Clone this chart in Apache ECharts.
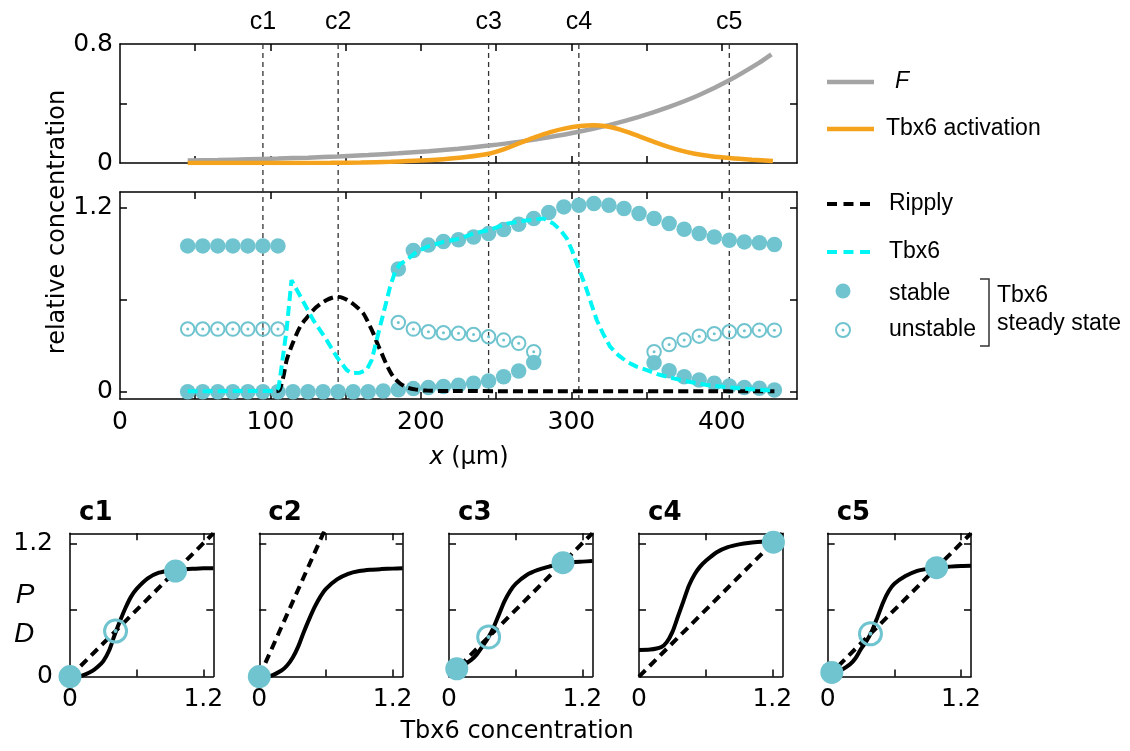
<!DOCTYPE html>
<html><head><meta charset="utf-8">
<script src="https://cdn.jsdelivr.net/npm/echarts@6/dist/echarts.min.js"></script>
<style>html,body{margin:0;padding:0;background:#fff}#c{width:1130px;height:751px}</style>
</head><body><div id="c"></div>
<script>
// ---------------- data ----------------
// top panel
const fX = [45,65,85,105,125,145,165,185,205,225,245,265,285,305,325,345,365,385,405,425,433];
const fY = [0.016,0.02,0.025,0.03,0.036,0.044,0.054,0.065,0.079,0.096,0.117,0.142,0.173,0.21,0.255,0.31,0.377,0.457,0.556,0.675,0.73];
const actX = [45,100,140,160,180,200,215,230,245,255,266,276,286,296,306,315,322,328,337,346,355,364,373,382,393,405,420,434];
const actY = [0,0,0.001,0.003,0.008,0.016,0.026,0.04,0.062,0.092,0.135,0.174,0.208,0.233,0.248,0.253,0.249,0.237,0.21,0.176,0.142,0.11,0.083,0.062,0.045,0.033,0.022,0.014];

// middle panel: steady states sampled along x
const dotX = [45,55,65,75,85,95,105,115,125,135,145,155,165,175,185,195,205,215,225,235,245,255,265,275,285,295,305,315,325,335,345,355,365,375,385,395,405,415,425,435];
const stableLow = [0,0,0,0,0,0,0,0,0,0,0,0,0,0.005,0.012,0.02,0.028,0.034,0.042,0.055,0.07,0.098,0.135,0.19,
  null,null,null,null,null,null,null,0.189,0.137,0.098,0.076,0.055,0.037,0.028,0.022,0.011];
const stableHigh = [0.95,0.95,0.95,0.95,0.95,0.95,0.95,null,null,null,null,null,null,null,
  0.80,0.92,0.955,0.978,0.99,1.008,1.03,1.056,1.091,1.128,1.167,1.204,1.215,1.226,1.215,1.193,1.161,1.128,1.096,1.059,1.03,1.008,0.987,0.976,0.97,0.959];
const unstableMid = [0.408,0.408,0.408,0.408,0.408,0.408,0.408,null,null,null,null,null,null,null,
  0.451,0.408,0.39,0.384,0.38,0.373,0.358,0.336,0.315,0.26,null,null,null,null,null,null,null,0.26,0.308,0.336,0.362,0.377,0.39,0.397,0.401,0.401];

const ripplyX = [104,106,108.6,110.8,115,119.7,124,128.5,133,137.4,141,144,148,152.9,157,161.7,165,168.4,171,173.9,178,181.6,186,190.5,196,203.8,220,435];
const ripplyY = [0.003,0.01,0.098,0.206,0.32,0.423,0.48,0.532,0.57,0.597,0.612,0.618,0.612,0.586,0.555,0.51,0.45,0.38,0.315,0.25,0.16,0.098,0.055,0.029,0.015,0.007,0.004,0.003];

const tbx6X = [45,104,105.5,107.4,110.7,114,128.5,137.4,144,150.7,154,159.5,163.9,167.3,169.5,172.8,176.2,179.5,182.8,186,190.4,197.2,203.8,215,226,234.9,246,257.1,270,281.5,288.1,293,297,300.5,303.6,307,310.3,313.5,316.9,321,325.8,331,336.9,343,350.2,358,367.9,379,390.1,401,412.2,423,434.4];
const tbx6Y = [0.003,0.005,0.03,0.163,0.40,0.727,0.466,0.336,0.228,0.141,0.12,0.124,0.141,0.206,0.293,0.423,0.553,0.683,0.78,0.83,0.857,0.911,0.943,0.976,0.998,1.03,1.055,1.095,1.115,1.128,1.095,1.05,0.998,0.92,0.835,0.75,0.662,0.565,0.467,0.38,0.293,0.24,0.196,0.165,0.141,0.112,0.087,0.063,0.044,0.032,0.022,0.014,0.007];

const cX = [95,145,245,305,405];
const cNames = ['c1','c2','c3','c4','c5'];

// bottom panels: production curve P(u) and degradation D(u)
const pU = [0,0.1,0.2,0.25,0.3,0.35,0.4,0.45,0.5,0.55,0.6,0.7,0.8,0.9,1.0,1.1,1.2,1.29];
const pC1 = [0,0.007,0.05,0.088,0.14,0.23,0.37,0.5,0.62,0.72,0.79,0.885,0.935,0.955,0.965,0.97,0.975,0.975];
const pC2 = [0,0.007,0.055,0.1,0.17,0.27,0.4,0.52,0.63,0.72,0.79,0.875,0.925,0.95,0.962,0.968,0.972,0.975];
const pC3 = [0.05,0.085,0.15,0.2,0.27,0.345,0.44,0.56,0.68,0.77,0.835,0.915,0.96,0.99,1.015,1.028,1.035,1.04];
const pC4 = [0.24,0.243,0.265,0.31,0.4,0.54,0.68,0.82,0.92,0.99,1.04,1.12,1.165,1.19,1.205,1.213,1.218,1.22];
const pC5 = [0.035,0.05,0.11,0.165,0.25,0.32,0.415,0.54,0.67,0.77,0.835,0.905,0.95,0.97,0.983,0.99,0.995,0.997];
const dC1 = [[0,0],[1.29,1.29]];
const dC2 = [[0,0],[0.6,1.344]];
const dC3 = [[0,0],[1.29,1.29]];
const dC4 = [[0,0],[1.29,1.29]];
const dC5 = [[0,0],[1.29,1.29]];
const stC1 = [[0,0],[0.95,0.95]], unC1 = [[0.41,0.41]];
const stC2 = [[0,0]], unC2 = [];
const stC3 = [[0.07,0.07],[1.026,1.026]], unC3 = [[0.357,0.357]];
const stC4 = [[1.21,1.21]], unC4 = [];
const stC5 = [[0.037,0.037],[0.98,0.98]], unC5 = [[0.385,0.385]];

const mainXTicks = [50,100,150,200,250,300,350,400];
const mainXLabels = [0,100,200,300,400];
const topYTicks = [0.4], topYLabels = [0, 0.8];
const midYTicks = [0,0.6,1.2], midYLabels = [0,1.2];
const smallTicks = [0.6,1.2], smallLabels = [0,1.2];

// ---------------- styling / layout ----------------
const TEAL = '#6fc4cf';
const ORANGE = '#f5a21c';
const GRAY = '#a4a4a4';
const CYAN = '#00f5f5';
const LBL = {fontFamily:'DejaVu Sans', fontSize:25, color:'#000'};

const chart = echarts.init(document.getElementById('c'));

const grids = [
  {left:120, top:44, width:677, height:119},
  {left:120, top:192, width:677, height:207}
];
const smallLeft = [70, 259.3, 449, 639, 827.7];
smallLeft.forEach(l => grids.push({left:l, top:533.3, width:143.3, height:143.3}));
grids.forEach(g => { g.containLabel = false; g.outerBoundsMode = 'none'; g.show = false; });

function mkAxis(gridIndex, position, min, max, ticks, labels, margin) {
  const a = {
    type:'value', gridIndex, position, min, max, silent:true,
    axisLine:{show:true, onZero:false, lineStyle:{color:'#000', width:1.5}},
    axisTick:{show:true, inside:true, length:7, customValues:ticks, lineStyle:{color:'#000', width:1.5}},
    axisLabel:{show:false},
    splitLine:{show:false}, splitArea:{show:false}, minorTick:{show:false}
  };
  if (labels && labels.length) {
    a.axisLabel = Object.assign({show:true, customValues:labels, margin, formatter: v => String(v)}, LBL);
  }
  return a;
}

const xAxes = [], yAxes = [];
// top
xAxes.push(mkAxis(0,'bottom',0,450,mainXTicks,null));
xAxes.push(mkAxis(0,'top',0,450,mainXTicks,null));
yAxes.push(mkAxis(0,'left',0,0.8,topYTicks,topYLabels,7));
yAxes.push(mkAxis(0,'right',0,0.8,topYTicks,null));
// middle
const midMin = -0.0476, midMax = 1.301;
xAxes.push(mkAxis(1,'bottom',0,450,mainXTicks,mainXLabels,11));
xAxes.push(mkAxis(1,'top',0,450,mainXTicks,null));
yAxes.push(mkAxis(1,'left',midMin,midMax,midYTicks,midYLabels,7));
yAxes.push(mkAxis(1,'right',midMin,midMax,midYTicks,null));
// small
for (let k = 0; k < 5; k++) {
  const g = k + 2;
  xAxes.push(mkAxis(g,'bottom',0,1.29,smallTicks,smallLabels,10));
  xAxes.push(mkAxis(g,'top',0,1.29,smallTicks,null));
  yAxes.push(mkAxis(g,'left',0,1.29,smallTicks,k===0?smallLabels:null,17));
  yAxes.push(mkAxis(g,'right',0,1.29,smallTicks,null));
}

const zip = (xs, ys) => xs.map((x,i) => [x, ys[i]]);
const branch = ys => dotX.map((x,i) => ys[i] == null ? null : [x, ys[i]]).filter(Boolean);

const series = [];
function ax(g){ return {xAxisIndex:2*g, yAxisIndex:2*g}; }
// top panel
series.push(Object.assign({type:'line', data:zip(fX,fY), smooth:0.3, symbol:'none', z:3,
  lineStyle:{color:GRAY, width:4.5}}, ax(0)));
series.push(Object.assign({type:'line', data:zip(actX,actY), smooth:0.3, symbol:'none', z:4,
  lineStyle:{color:ORANGE, width:4.5}}, ax(0)));
// middle panel
const stableAll = branch(stableLow).concat(branch(stableHigh));
const unstableAll = branch(unstableMid);
series.push(Object.assign({type:'scatter', data:stableAll, symbol:'circle', symbolSize:15.5, clip:false, z:2,
  itemStyle:{color:TEAL, opacity:1}}, ax(1)));
series.push(Object.assign({type:'scatter', data:unstableAll, symbol:'circle', symbolSize:13.5, clip:false, z:2,
  itemStyle:{color:'rgba(255,255,255,0)', borderColor:TEAL, borderWidth:2, opacity:1}}, ax(1)));
series.push(Object.assign({type:'scatter', data:unstableAll, symbol:'circle', symbolSize:3, clip:false, z:2,
  itemStyle:{color:TEAL, opacity:1}}, ax(1)));
series.push(Object.assign({type:'line', data:zip(ripplyX,ripplyY), smooth:0.3, symbol:'none', z:5,
  lineStyle:{color:'#000', width:4, type:[10,5]}}, ax(1)));
series.push(Object.assign({type:'line', data:zip(tbx6X,tbx6Y), symbol:'none', z:6,
  lineStyle:{color:CYAN, width:4, type:[10,5]}}, ax(1)));
// bottom panels
const pAll = [pC1,pC2,pC3,pC4,pC5];
const dAll = [dC1,dC2,dC3,dC4,dC5];
const stAll = [stC1,stC2,stC3,stC4,stC5];
const unAll = [unC1,unC2,unC3,unC4,unC5];
for (let k = 0; k < 5; k++) {
  const g = k + 2;
  series.push(Object.assign({type:'line', data:zip(pU,pAll[k]), smooth:0.3, symbol:'none', z:3,
    lineStyle:{color:'#000', width:4}}, ax(g)));
  series.push(Object.assign({type:'line', data:dAll[k], symbol:'none', z:3,
    lineStyle:{color:'#000', width:4, type:[9,6]}}, ax(g)));
  series.push(Object.assign({type:'scatter', data:stAll[k], symbol:'circle', symbolSize:23, clip:false, z:5,
    itemStyle:{color:TEAL, opacity:1}}, ax(g)));
  if (unAll[k].length) {
    series.push(Object.assign({type:'scatter', data:unAll[k], symbol:'circle', symbolSize:22, clip:false, z:5,
      itemStyle:{color:'rgba(255,255,255,0)', borderColor:TEAL, borderWidth:3, opacity:1}}, ax(g)));
    series.push(Object.assign({type:'scatter', data:unAll[k], symbol:'circle', symbolSize:4, clip:false, z:5,
      itemStyle:{color:TEAL, opacity:1}}, ax(g)));
  }
}

chart.setOption({
  animation:false,
  backgroundColor:'#fff',
  grid:grids, xAxis:xAxes, yAxis:yAxes, series
});

// ---------------- annotations ----------------
function txt(text, x, y, font, align, vAlign) {
  return {type:'text', silent:true, z:10,
    style:{text, x, y, font, fill:'#000', align:align||'left', verticalAlign:vAlign||'middle',
      textAlign:align||'left', textVerticalAlign:vAlign||'middle'}};
}
const G = [];
const yTop = chart.convertToPixel({yAxisIndex:0}, 0.8);
const yBot = chart.convertToPixel({yAxisIndex:2}, midMin);
cX.forEach((v, i) => {
  const px = chart.convertToPixel({xAxisIndex:0}, v);
  G.push({type:'line', silent:true, z:1, shape:{x1:px, y1:yTop, x2:px, y2:yBot},
    style:{stroke:'#333', lineWidth:1.3, lineDash:[5,4]}});
  G.push(txt(cNames[i], px, 22, '25px "Liberation Sans"', 'center', 'middle'));
});
// y title (rotated around its own anchor)
G.push({type:'text', silent:true, z:10, x:58, y:222, rotation:Math.PI/2,
  style:{text:'relative concentration', x:0, y:0, font:'24px "DejaVu Sans"', fill:'#000',
    align:'center', verticalAlign:'middle', textAlign:'center', textVerticalAlign:'middle'}});
// x title
G.push({type:'text', silent:true, z:10, style:{text:'{i|x} (µm)', x:469, y:458, font:'24px "DejaVu Sans"', fill:'#000',
  align:'center', verticalAlign:'middle', textAlign:'center', textVerticalAlign:'middle',
  rich:{i:{fontStyle:'italic', fontFamily:'DejaVu Sans', fontSize:24, fill:'#000'}}}});
G.push(txt('Tbx6 concentration', 517, 732, '24px "DejaVu Sans"', 'center', 'middle'));
G.push(txt('P', 25, 595, 'italic 28px "Liberation Sans"', 'center', 'middle'));
G.push(txt('D', 24, 634, 'italic 28px "Liberation Sans"', 'center', 'middle'));
smallLeft.forEach((l, k) => G.push(txt(cNames[k], l + 9, 513, 'bold 26px "DejaVu Sans"', 'left', 'middle')));

// legend
const LF = '23px "Liberation Sans"';
G.push({type:'line', silent:true, shape:{x1:827,y1:82,x2:874,y2:82}, style:{stroke:GRAY, lineWidth:4.5}});
G.push(txt('F', 895, 82, 'italic ' + LF));
G.push({type:'line', silent:true, shape:{x1:827,y1:129,x2:874,y2:129}, style:{stroke:ORANGE, lineWidth:4.5}});
G.push(txt('Tbx6 activation', 886, 129, LF));
G.push({type:'line', silent:true, shape:{x1:827,y1:204,x2:870,y2:204}, style:{stroke:'#000', lineWidth:4, lineDash:[10,6.5]}});
G.push(txt('Ripply', 889, 204, LF));
G.push({type:'line', silent:true, shape:{x1:827,y1:252,x2:870,y2:252}, style:{stroke:CYAN, lineWidth:4, lineDash:[10,6.5]}});
G.push(txt('Tbx6', 889, 252, LF));
G.push({type:'circle', silent:true, shape:{cx:843, cy:291, r:7.5}, style:{fill:TEAL}});
G.push(txt('stable', 889, 294, LF));
G.push({type:'circle', silent:true, shape:{cx:843, cy:330, r:7}, style:{fill:'none', stroke:TEAL, lineWidth:2}});
G.push({type:'circle', silent:true, shape:{cx:843, cy:330, r:1.5}, style:{fill:TEAL}});
G.push(txt('unstable', 889, 330, LF));
G.push({type:'polyline', silent:true, shape:{points:[[980,279],[989,279],[989,346],[980,346]]}, style:{stroke:'#333', lineWidth:1.5, fill:'none'}});
G.push(txt('Tbx6', 997, 296, LF));
G.push(txt('steady state', 997, 324, LF));

chart.setOption({graphic:{elements:G}});
</script>
</body></html>
